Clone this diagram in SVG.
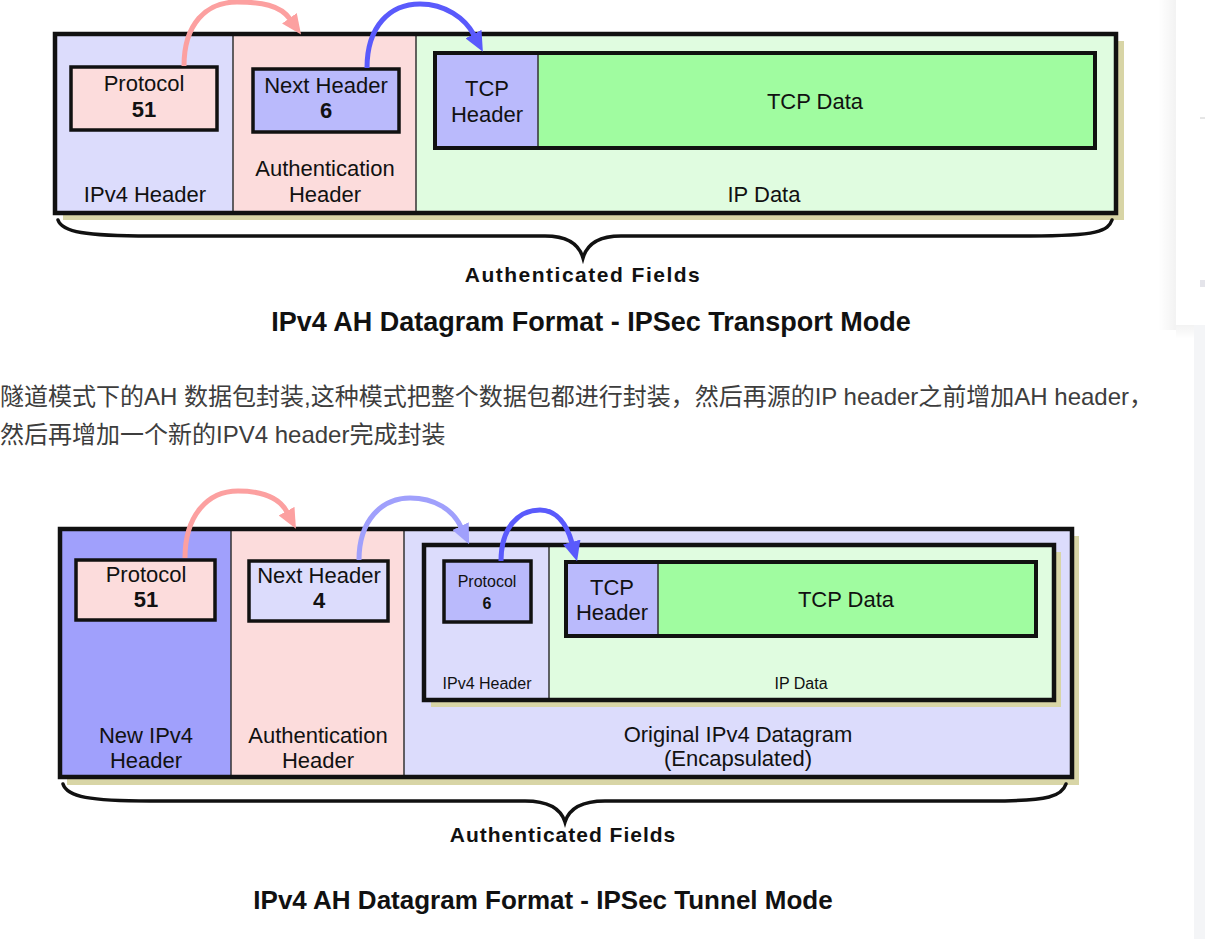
<svg xmlns="http://www.w3.org/2000/svg" width="1205" height="939" viewBox="0 0 1205 939">
<defs>
<style>
.t{font-family:"Liberation Sans",Arial,sans-serif;font-size:22px;fill:#111;text-anchor:middle}
.b{font-weight:bold}
.s{font-size:16px}
.af{font-weight:bold;font-size:21px;letter-spacing:1.5px}
.ti{font-weight:bold;font-size:27px}
.cn{font-family:"Liberation Sans","Noto Sans CJK SC",sans-serif;font-size:24px;fill:#3d3d3d}
.bx{stroke:#111;stroke-width:3.5}
.ol{fill:none;stroke:#111;stroke-width:4.5}
.dv{stroke:#333;stroke-width:1.5}
.sh{fill:#d8d5a6}
.arr{fill:none;stroke-width:5}
.br{fill:none;stroke:#111;stroke-width:3.5;stroke-linecap:round}
</style>
<marker id="hp" viewBox="0 0 20 18" refX="1" refY="9" markerWidth="20" markerHeight="18" markerUnits="userSpaceOnUse" orient="auto"><path d="M0,0 L20,9 L0,18 z" fill="#fca0a0"/></marker>
<marker id="hb" viewBox="0 0 20 18" refX="1" refY="9" markerWidth="20" markerHeight="18" markerUnits="userSpaceOnUse" orient="auto"><path d="M0,0 L20,9 L0,18 z" fill="#5a5afc"/></marker>
<marker id="hl" viewBox="0 0 20 18" refX="1" refY="9" markerWidth="20" markerHeight="18" markerUnits="userSpaceOnUse" orient="auto"><path d="M0,0 L20,9 L0,18 z" fill="#a0a0fc"/></marker>
<linearGradient id="cs" x1="0" x2="1" y1="0" y2="0"><stop offset="0" stop-color="#000" stop-opacity="0"/><stop offset="1" stop-color="#000" stop-opacity="0.05"/></linearGradient>
<linearGradient id="cb" x1="0" x2="0" y1="0" y2="1"><stop offset="0" stop-color="#000" stop-opacity="0.05"/><stop offset="1" stop-color="#000" stop-opacity="0"/></linearGradient>
</defs>
<rect width="1205" height="939" fill="#fff"/>

<!-- right edge page card -->
<g id="side-card">
<rect x="1158" y="0" width="18" height="330" fill="url(#cs)"/>
<rect x="1176" y="325" width="29" height="14" fill="url(#cb)"/>
<rect x="1194" y="325" width="11" height="614" fill="#f4f5f7"/>
<path d="M1176,0 H1205 V325 H1184 Q1176,325 1176,317 Z" fill="#fff"/>
<line x1="1200" y1="118" x2="1205" y2="118" stroke="#ccc" stroke-width="1"/>
<rect x="1200" y="280" width="5" height="7" fill="#e4e4ea"/>
</g>

<!-- ===== Transport mode ===== -->
<g id="t-datagram">
<rect class="sh" x="63" y="41" width="1061" height="179"/>
<rect x="55" y="34" width="178" height="179" fill="#dcdcfc"/>
<rect x="233" y="34" width="183" height="179" fill="#fcdcdc"/>
<rect x="416" y="34" width="700" height="179" fill="#e0fce0"/>
<line class="dv" x1="233" y1="34" x2="233" y2="213"/>
<line class="dv" x1="416" y1="34" x2="416" y2="213"/>
<rect class="ol" x="55" y="34" width="1061" height="179"/>
</g>
<g id="t-ipv4-header">
<rect class="bx" x="71" y="67" width="146" height="63" fill="#fcdcdc"/>
<text class="t" x="144" y="91">Protocol</text>
<text class="t b" x="144" y="117">51</text>
<text class="t" x="145" y="202">IPv4 Header</text>
</g>
<g id="t-auth-header">
<rect class="bx" x="253" y="69" width="146" height="63" fill="#babafc"/>
<text class="t" x="326" y="93">Next Header</text>
<text class="t b" x="326" y="118">6</text>
<text class="t" x="325" y="176">Authentication</text>
<text class="t" x="325" y="202">Header</text>
</g>
<g id="t-ip-data">
<rect x="435" y="53" width="103" height="95" fill="#babafc"/>
<rect x="538" y="53" width="557" height="95" fill="#a0fca0"/>
<line class="dv" x1="538" y1="53" x2="538" y2="148"/>
<rect fill="none" stroke="#111" stroke-width="4" x="435" y="53" width="660" height="95"/>
<text class="t" x="487" y="96">TCP</text>
<text class="t" x="487" y="122">Header</text>
<text class="t" x="815" y="109">TCP Data</text>
<text class="t" x="764" y="202">IP Data</text>
</g>
<g id="t-brace">
<path class="br" d="M58,220 C62,232 85,236 150,236 L545,236 C568,236 579,244 583,258 C587,244 598,236 621,236 L1030,236 C1098,236 1108,231 1112,220"/>
<text class="t af" x="583" y="282">Authenticated Fields</text>
</g>
<text class="t ti" x="591" y="331">IPv4 AH Datagram Format - IPSec Transport Mode</text>

<g id="t-connectors">
<path class="arr" stroke="#fca0a0" marker-end="url(#hp)" d="M184,66 C184,24 206,2 237,2 C261,2 280,5 290,19"/>
<path class="arr" stroke="#5a5afc" marker-end="url(#hb)" d="M367,68 C367,26 390,4 420,4 C445,4 465,18 474,35"/>
</g>

<!-- paragraph -->
<text class="cn" x="0" y="405">隧道模式下的AH 数据包封装,这种模式把整个数据包都进行封装，然后再源的IP header之前增加AH header，</text>
<text class="cn" x="0" y="443">然后再增加一个新的IPV4 header完成封装</text>

<!-- ===== Tunnel mode ===== -->
<g id="u-datagram">
<rect class="sh" x="67" y="536" width="1012" height="249"/>
<rect x="60" y="529" width="171" height="248" fill="#a0a0fc"/>
<rect x="231" y="529" width="173" height="248" fill="#fcdcdc"/>
<rect x="404" y="529" width="668" height="248" fill="#dcdcfc"/>
<line class="dv" x1="231" y1="529" x2="231" y2="777"/>
<line class="dv" x1="404" y1="529" x2="404" y2="777"/>
<rect class="ol" x="60" y="529" width="1012" height="248"/>
</g>
<g id="u-new-ipv4-header">
<rect class="bx" x="76" y="560" width="139" height="60" fill="#fcdcdc"/>
<text class="t" x="146" y="582">Protocol</text>
<text class="t b" x="146" y="607">51</text>
<text class="t" x="146" y="743">New IPv4</text>
<text class="t" x="146" y="768">Header</text>
</g>
<g id="u-auth-header">
<rect class="bx" x="249" y="561" width="139" height="60" fill="#dcdcfc"/>
<text class="t" x="319" y="583">Next Header</text>
<text class="t b" x="319" y="608">4</text>
<text class="t" x="318" y="743">Authentication</text>
<text class="t" x="318" y="768">Header</text>
</g>
<g id="u-original">
<rect class="sh" x="431" y="552" width="630" height="155"/>
<rect x="424" y="545" width="125" height="155" fill="#dcdcfc"/>
<rect x="549" y="545" width="505" height="155" fill="#e0fce0"/>
<line class="dv" x1="549" y1="545" x2="549" y2="700"/>
<rect fill="none" stroke="#111" stroke-width="4.5" x="424" y="545" width="630" height="155"/>
<text class="t" x="738" y="742">Original IPv4 Datagram</text>
<text class="t" x="738" y="766">(Encapsulated)</text>
</g>
<g id="u-inner-ipv4-header">
<rect class="bx" x="444" y="561" width="87" height="61" fill="#babafc"/>
<text class="t s" x="487" y="587">Protocol</text>
<text class="t s b" x="487" y="609">6</text>
<text class="t s" x="487" y="689">IPv4 Header</text>
</g>
<g id="u-ip-data">
<rect x="566" y="562" width="92" height="74" fill="#babafc"/>
<rect x="658" y="562" width="378" height="74" fill="#a0fca0"/>
<line class="dv" x1="658" y1="562" x2="658" y2="636"/>
<rect fill="none" stroke="#111" stroke-width="4" x="566" y="562" width="470" height="74"/>
<text class="t" x="612" y="595">TCP</text>
<text class="t" x="612" y="620">Header</text>
<text class="t" x="846" y="607">TCP Data</text>
<text class="t s" x="801" y="689">IP Data</text>
</g>
<g id="u-brace">
<path class="br" d="M63,784 C67,797 90,801 150,801 L525,801 C550,801 561,809 565,822 C569,809 580,801 605,801 L990,801 C1050,801 1062,796 1066,784"/>
<text class="t af" x="563" y="842" style="letter-spacing:1px">Authenticated Fields</text>
</g>
<text class="t ti" x="543" y="909" style="font-size:26px">IPv4 AH Datagram Format - IPSec Tunnel Mode</text>

<g id="u-connectors">
<path class="arr" stroke="#fca0a0" marker-end="url(#hp)" d="M185,558 C185,515 208,491 238,491 C262,491 279,497 287,512"/>
<path class="arr" stroke="#a0a0fc" marker-end="url(#hl)" d="M359,560 C359,520 382,498 410,498 C435,498 453,510 461,527"/>
<path class="arr" stroke="#5a5afc" marker-end="url(#hb)" d="M501,561 C501,528 518,510 540,510 C557,510 567,525 572,543"/>
</g>
</svg>
